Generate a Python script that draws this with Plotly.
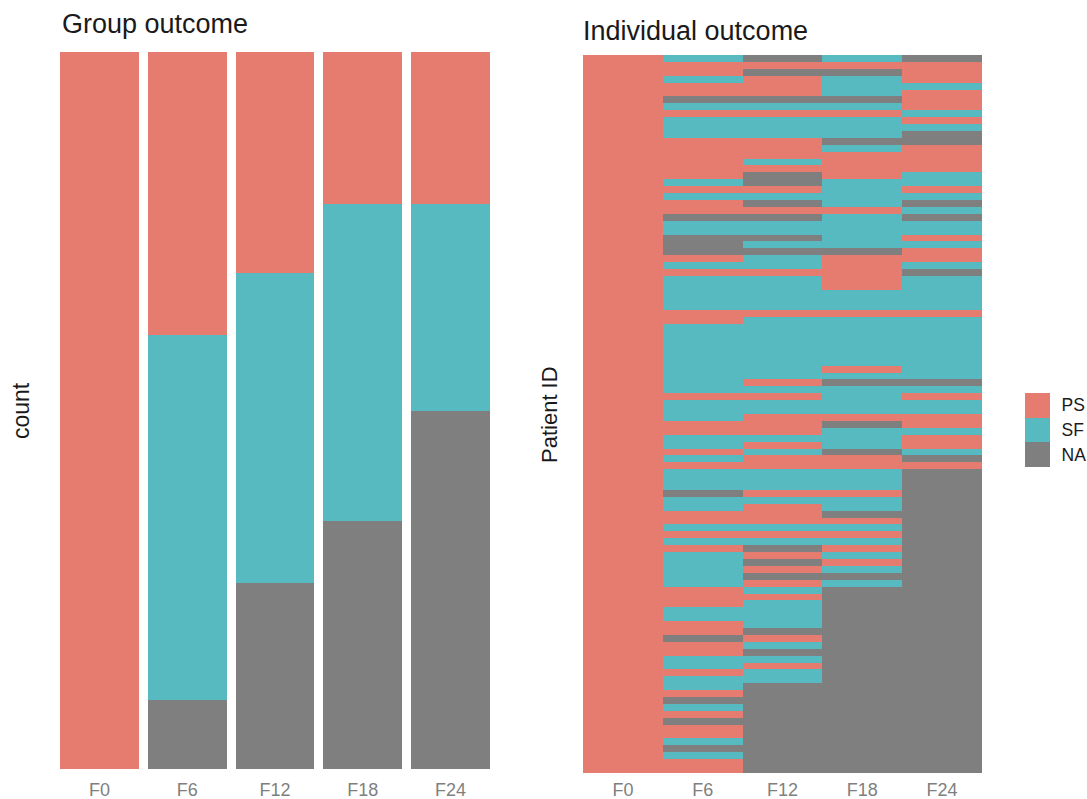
import plotly.graph_objects as go

W, H = 1087, 799

timepoints = ["F0", "F6", "F12", "F18", "F24"]
outcomes = ["PS", "SF", "NA"]
colors = {"PS": "#E57C6F", "SF": "#58BAC1", "NA": "#7F7F7F"}

# Group outcome: patient counts per visit
count_ps = [104, 41, 32, 22, 22]
count_sf = [0, 53, 45, 46, 30]
count_na = [0, 10, 27, 36, 52]

# Individual outcome: one letter per patient (P = PS, S = SF, N = NA), top row first, in runs
runs_f0 = [("P", 104)]
runs_f6 = [("S",1),("P",2),("S",1),("P",2),("N",1),("S",1),("P",1),("S",3),("P",6),("S",1),("P",1),("S",1),("P",2),
           ("N",1),("S",2),("N",3),("P",1),("S",1),("P",1),("S",5),("P",2),("S",10),("P",1),("S",3),("P",2),("S",2),
           ("P",1),("S",1),("P",1),("S",3),("N",1),("S",2),("P",2),("S",1),("P",1),("S",1),("P",1),("S",5),("P",3),
           ("S",2),("P",2),("N",1),("P",2),("S",2),("P",1),("S",2),("P",1),("N",1),("S",1),("P",1),("N",1),("P",2),
           ("S",1),("N",1),("S",1),("P",2)]
runs_f12 = [("N",1),("P",1),("N",1),("P",3),("N",1),("S",1),("P",1),("S",3),("P",3),("S",1),("P",1),("N",2),("P",1),
            ("S",1),("N",1),("P",1),("N",1),("S",2),("N",1),("S",1),("N",1),("S",2),("P",1),("S",5),("P",1),("S",9),
            ("P",1),("S",1),("P",1),("S",2),("P",3),("S",1),("P",1),("S",1),("P",2),("S",3),("P",1),("S",1),("P",3),
            ("S",1),("P",1),("S",1),("N",1),("P",1),("N",1),("P",1),("N",1),("P",1),("S",1),("P",1),("S",4),("N",1),
            ("P",1),("S",1),("N",1),("S",1),("P",1),("S",2),("N",13)]
runs_f18 = [("S",1),("P",1),("N",1),("S",3),("N",1),("S",1),("P",1),("S",3),("N",1),("S",1),("P",4),("S",4),("P",1),
            ("S",5),("N",1),("P",5),("S",3),("P",1),("S",7),("P",1),("S",1),("N",1),("S",4),("P",1),("N",1),("S",3),
            ("N",1),("P",2),("S",3),("P",1),("S",2),("N",1),("P",1),("S",1),("P",1),("S",1),("P",1),("S",1),("P",1),
            ("S",1),("N",1),("S",1),("N",27)]
runs_f24 = [("N",1),("P",3),("S",1),("P",3),("S",1),("P",1),("S",1),("N",2),("P",4),("S",2),("P",1),("S",1),("N",1),
            ("S",1),("N",1),("S",2),("P",1),("S",1),("P",2),("S",1),("N",1),("S",5),("P",1),("S",9),("N",1),("S",1),
            ("P",1),("S",2),("P",2),("S",1),("P",2),("S",1),("N",1),("P",1),("N",44)]

legend_order = [0, 1, 2]

code = {"P": 0, "S": 1, "N": 2}


def expand(runs):
    out = []
    for letter, n in runs:
        out += [code[letter]] * n
    return out


columns = [expand(r) for r in (runs_f0, runs_f6, runs_f12, runs_f18, runs_f24)]
n_rows = len(columns[0])
z = [[columns[j][i] for j in range(5)] for i in range(n_rows)]

cs = [
    [0, colors["PS"]], [1 / 3, colors["PS"]],
    [1 / 3, colors["SF"]], [2 / 3, colors["SF"]],
    [2 / 3, colors["NA"]], [1, colors["NA"]],
]


def dx(a, b):
    return [a / W, b / W]


def dy(top, bottom):
    return [1 - bottom / H, 1 - top / H]


fig = go.Figure()
for name, vals in (("NA", count_na), ("SF", count_sf), ("PS", count_ps)):
    fig.add_bar(x=timepoints, y=vals, name=name, marker=dict(color=colors[name], line_width=0),
                xaxis="x", yaxis="y", showlegend=False)

fig.add_heatmap(z=z, x=timepoints, y=list(range(n_rows)), zmin=0, zmax=2, colorscale=cs, showscale=False,
                xaxis="x2", yaxis="y2", hoverinfo="skip")
fig.add_heatmap(z=[[v] for v in legend_order], x=["key"], y=outcomes, zmin=0, zmax=2, colorscale=cs, showscale=False,
                xaxis="x3", yaxis="y3", hoverinfo="skip")

tick_font = dict(family="Liberation Sans", size=18, color="#7F7F7F")
txt = dict(family="Liberation Sans", color="#1A1A1A")

fig.update_layout(
    width=W, height=H, autosize=False, barmode="stack", bargap=0.1,
    margin=dict(l=0, r=0, t=0, b=0, autoexpand=False), paper_bgcolor="white", plot_bgcolor="white",
    xaxis=dict(domain=dx(60, 490), range=[-0.45, 4.45], type="category", categoryorder="array", categoryarray=timepoints,
               showgrid=False, zeroline=False, showline=False, ticks="outside", ticklen=4, tickcolor="rgba(0,0,0,0)",
               tickfont=tick_font),
    yaxis=dict(domain=dy(52, 769), range=[0, 104], showgrid=False, zeroline=False, showticklabels=False, ticks=""),
    xaxis2=dict(domain=dx(583, 982), anchor="y2", type="category", categoryorder="array", categoryarray=timepoints,
                range=[-0.5, 4.5], showgrid=False, zeroline=False, showline=False, ticks="outside", ticklen=0,
                tickcolor="rgba(0,0,0,0)", tickfont=tick_font),
    yaxis2=dict(domain=dy(55, 773), anchor="x2", range=[n_rows - 0.5, -0.5], showgrid=False, zeroline=False,
                showticklabels=False, ticks=""),
    xaxis3=dict(domain=dx(1025, 1050), anchor="y3", showgrid=False, zeroline=False, showticklabels=False, ticks=""),
    yaxis3=dict(domain=dy(393, 467), anchor="x3", side="right", type="category", categoryorder="array",
                categoryarray=outcomes[::-1], showgrid=False, zeroline=False, ticks="outside", ticklen=7,
                tickcolor="rgba(0,0,0,0)", tickfont=dict(family="Liberation Sans", size=17.5, color="#1A1A1A")),
    annotations=[
        dict(text="Group outcome", x=60 / W, y=1 - 24 / H, xref="paper", yref="paper", xanchor="left", yanchor="middle",
             showarrow=False, font=dict(size=27, **txt)),
        dict(text="Individual outcome", x=581 / W, y=1 - 31 / H, xref="paper", yref="paper", xanchor="left",
             yanchor="middle", showarrow=False, font=dict(size=27, **txt)),
        dict(text="count", x=21 / W, y=1 - 411 / H, xref="paper", yref="paper", xanchor="center", yanchor="middle",
             textangle=-90, showarrow=False, font=dict(size=23, **txt)),
        dict(text="Patient ID", x=550 / W, y=1 - 415 / H, xref="paper", yref="paper", xanchor="center", yanchor="middle",
             textangle=-90, showarrow=False, font=dict(size=22, **txt)),
    ],
)

fig.write_html("out.html", config={"displayModeBar": False},
               post_script="document.body.style.margin='0';document.body.style.overflow='hidden';")
